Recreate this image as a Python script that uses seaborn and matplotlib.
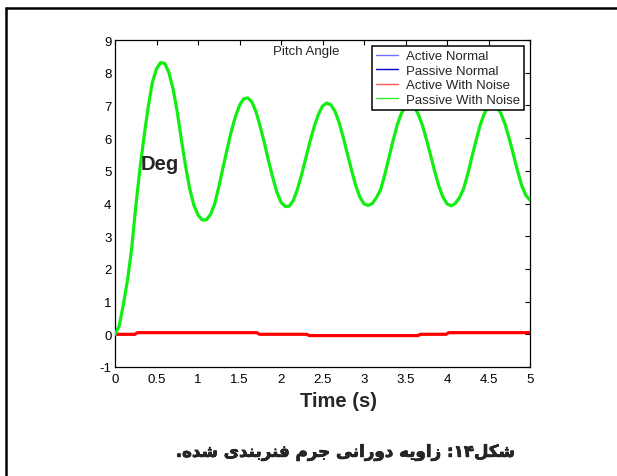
import numpy as np
import pandas as pd
import matplotlib
matplotlib.use("Agg")
import matplotlib.pyplot as plt
import matplotlib.patheffects as pe
from matplotlib.lines import Line2D
import seaborn as sns

# ---------------- data ----------------
time_green = [0.00, 0.05, 0.10, 0.15, 0.20, 0.25, 0.30, 0.35, 0.40, 0.45,
              0.50, 0.55, 0.60, 0.65, 0.70, 0.75, 0.80, 0.85, 0.90, 0.95,
              1.00, 1.05, 1.10, 1.15, 1.20, 1.25, 1.30, 1.35, 1.40, 1.45,
              1.50, 1.55, 1.60, 1.65, 1.70, 1.75, 1.80, 1.85, 1.90, 1.95,
              2.00, 2.05, 2.10, 2.15, 2.20, 2.25, 2.30, 2.35, 2.40, 2.45,
              2.50, 2.55, 2.60, 2.65, 2.70, 2.75, 2.80, 2.85, 2.90, 2.95,
              3.00, 3.05, 3.10, 3.15, 3.20, 3.25, 3.30, 3.35, 3.40, 3.45,
              3.50, 3.55, 3.60, 3.65, 3.70, 3.75, 3.80, 3.85, 3.90, 3.95,
              4.00, 4.05, 4.10, 4.15, 4.20, 4.25, 4.30, 4.35, 4.40, 4.45,
              4.50, 4.55, 4.60, 4.65, 4.70, 4.75, 4.80, 4.85, 4.90, 4.95,
              5.00]
passive_with_noise = [0.00, 0.25, 0.90, 1.65, 2.60, 3.90, 5.05, 6.05, 6.95, 7.70,
                      8.12, 8.31, 8.28, 8.00, 7.50, 6.80, 5.95, 5.15, 4.45, 3.95,
                      3.65, 3.50, 3.50, 3.66, 3.98, 4.50, 5.08, 5.65, 6.20, 6.65,
                      7.00, 7.20, 7.23, 7.10, 6.80, 6.35, 5.85, 5.30, 4.80, 4.35,
                      4.04, 3.91, 3.92, 4.10, 4.45, 4.90, 5.40, 5.90, 6.35, 6.72,
                      6.98, 7.07, 7.02, 6.82, 6.48, 6.02, 5.52, 5.02, 4.55, 4.20,
                      3.99, 3.94, 4.00, 4.18, 4.42, 4.88, 5.40, 5.92, 6.40, 6.75,
                      6.97, 7.03, 6.97, 6.75, 6.42, 5.98, 5.50, 5.00, 4.55, 4.20,
                      3.99, 3.93, 4.00, 4.18, 4.45, 4.90, 5.42, 5.93, 6.40, 6.75,
                      6.97, 7.03, 6.97, 6.75, 6.42, 5.98, 5.50, 5.00, 4.55, 4.25,
                      4.10]

time_red = [0.00, 0.24, 0.27, 1.71, 1.74, 2.31, 2.34, 3.65, 3.68, 3.99, 4.02, 5.00]
active_with_noise = [0.00, 0.00, 0.05, 0.05, 0.00, 0.00, -0.04, -0.04, 0.00, 0.00, 0.05, 0.05]

time_blue = [0.00, 0.24, 0.27, 1.71, 1.74, 2.31, 2.34, 3.65, 3.68, 3.99, 4.02, 5.00]
active_normal = [0.00, -0.01, 0.05, 0.05, 0.00, 0.00, -0.04, -0.04, 0.00, 0.00, 0.05, 0.05]
passive_normal = [0.00, -0.01, 0.05, 0.05, 0.00, 0.00, -0.04, -0.04, 0.00, 0.00, 0.05, 0.05]

series_names = ["Active Normal", "Passive Normal", "Active With Noise", "Passive With Noise"]
x_ticks = [0, 0.5, 1, 1.5, 2, 2.5, 3, 3.5, 4, 4.5, 5]
x_tick_labels = ["0", "0.5", "1", "1.5", "2", "2.5", "3", "3.5", "4", "4.5", "5"]
y_ticks = [-1, 0, 1, 2, 3, 4, 5, 6, 7, 8, 9]
y_tick_labels = ["-1", "0", "1", "2", "3", "4", "5", "6", "7", "8", "9"]

# caption (Persian) in visual order using Arabic presentation forms
caption = ("." + "\uFEE9\uFEAA\uFEB7" + " "
           + "\uFEEF\uFEAA\uFEE8\uFE91\uFEAE\uFEE8\uFED3" + " "
           + "\uFEE1\uFEAE\uFE9F" + " "
           + "\uFEF0\uFEE7\uFE8D\uFEAD\uFEED\uFEA9" + " "
           + "\uFEEA\uFEF3\uFEED\uFE8D\uFEAF" + " "
           + ":" + "\u06F1\u06F4" + "\uFEDE\uFEDC\uFEB7")

# ---------------- styling ----------------
sns.set_style("white")
plt.rcParams["font.family"] = ["Liberation Sans", "DejaVu Sans"]
plt.rcParams["xtick.direction"] = "in"
plt.rcParams["ytick.direction"] = "in"

W, H = 617, 477
fig = plt.figure(figsize=(W / 100, H / 100), dpi=100)
fig.patch.set_facecolor("white")

ax = fig.add_axes([115 / W, 1 - 368 / H, 415 / W, 327 / H])

df_blue = pd.DataFrame({"t": time_blue, "an": active_normal, "pn": passive_normal})
df_red = pd.DataFrame({"t": time_red, "v": active_with_noise})
df_green = pd.DataFrame({"t": time_green, "v": passive_with_noise})

colors = ["#5a5aff", "#0000cc", "#ff0000", "#11ee11"]

sns.lineplot(data=df_blue, x="t", y="an", ax=ax, color=colors[0], linewidth=1.0,
             estimator=None, sort=False, legend=False, zorder=2)
sns.lineplot(data=df_blue, x="t", y="pn", ax=ax, color=colors[1], linewidth=1.0,
             estimator=None, sort=False, legend=False, zorder=2)
sns.lineplot(data=df_red, x="t", y="v", ax=ax, color=colors[2], linewidth=2.3,
             estimator=None, sort=False, legend=False, zorder=3)
sns.lineplot(data=df_green, x="t", y="v", ax=ax, color=colors[3], linewidth=2.3,
             estimator=None, sort=False, legend=False, zorder=4)

ax.set_xlim(0, 5)
ax.set_ylim(-1, 9)
ax.set_xticks(x_ticks)
ax.set_xticklabels(x_tick_labels)
ax.set_yticks(y_ticks)
ax.set_yticklabels(y_tick_labels)
ax.tick_params(axis="both", which="both", direction="in", length=3.5, width=0.8,
               top=True, right=True, labelsize=9.5, colors="black")
ax.tick_params(axis="x", pad=4)
ax.tick_params(axis="y", pad=2.5)
ax.set_xlabel("")
ax.set_ylabel("")
for s in ax.spines.values():
    s.set_visible(True)
    s.set_color("black")
    s.set_linewidth(0.9)

# legend (thin handles as in the reference)
handles = [Line2D([], [], color=c, linewidth=1.0) for c in ["#6f6fff", "#0000cc", "#ff5a5a", "#33ee33"]]
leg = ax.legend(handles, series_names, loc="upper right",
                bbox_to_anchor=(524 / W, 1 - 47 / H), bbox_transform=fig.transFigure,
                borderaxespad=0, fontsize=9.5, frameon=True, fancybox=False,
                framealpha=1, edgecolor="black", borderpad=0.3, labelspacing=0.17,
                handlelength=1.7, handletextpad=0.6)
leg.get_frame().set_linewidth(1.1)

# texts
fig.text(306 / W, 1 - 52 / H, "Pitch Angle", ha="center", va="center", fontsize=9.5)
fig.text(141 / W, 1 - 169.5 / H, "Deg", ha="left", va="baseline", fontsize=14.5,
         fontweight="bold")
fig.text(339 / W, 1 - 407.5 / H, "Time (s)", ha="center", va="baseline", fontsize=14.5,
         fontweight="bold")
fig.text(345 / W, 1 - 453 / H, caption, ha="center", va="center", fontsize=12,
         fontweight="bold", family=["DejaVu Sans"],
         path_effects=[pe.withStroke(linewidth=0.45, foreground="black")])

# outer page frame lines (top and left)
fig.add_artist(Line2D([6 / W, 1.0], [1 - 9 / H, 1 - 9 / H], transform=fig.transFigure,
                      color="black", linewidth=1.8))
fig.add_artist(Line2D([6 / W, 6 / W], [1 - 9 / H, 0.0], transform=fig.transFigure,
                      color="black", linewidth=1.8))

fig.savefig("out.png", dpi=100, facecolor="white")
